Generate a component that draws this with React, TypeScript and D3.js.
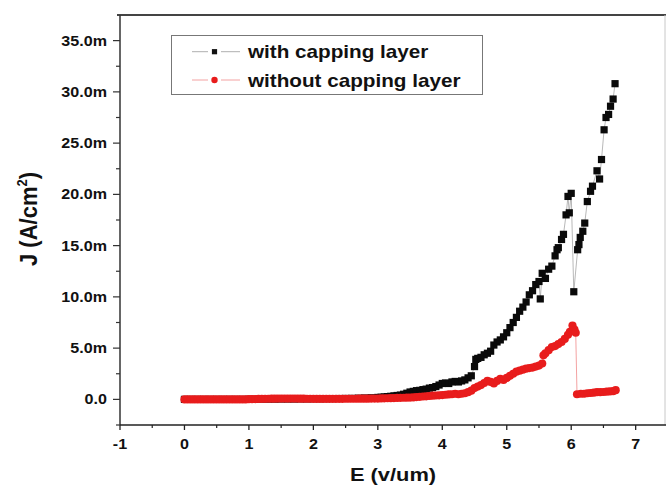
import React from 'react';
import * as d3 from 'd3';

// ---- data (J in mA/cm², E in V/um) ----
const eWith = [0, 0.1, 0.2, 0.3, 0.4, 0.5, 0.6, 0.7, 0.8, 0.9, 1.0, 1.1, 1.2, 1.3, 1.4, 1.5, 1.6, 1.7, 1.8, 1.9, 2.0, 2.1, 2.2, 2.3, 2.4, 2.5, 2.6, 2.7, 2.8, 2.9, 3.0,
  3.05, 3.1, 3.15, 3.2, 3.25, 3.3, 3.35, 3.4, 3.45, 3.5, 3.55, 3.6, 3.65, 3.7, 3.75, 3.8, 3.85, 3.9, 3.95, 4.0, 4.05, 4.1, 4.15, 4.2, 4.25, 4.3, 4.35, 4.4, 4.45, 4.5,
  4.52, 4.55, 4.6, 4.65, 4.7, 4.75, 4.8, 4.85, 4.9, 4.95, 5.0, 5.05, 5.1, 5.15, 5.2, 5.25, 5.3, 5.35, 5.4, 5.45, 5.5,
  5.52, 5.55, 5.6, 5.65, 5.7, 5.75, 5.78, 5.8, 5.85, 5.88, 5.92, 5.95, 5.97, 6.0,
  6.04, 6.1, 6.12, 6.14, 6.18, 6.21, 6.25, 6.3, 6.33, 6.4, 6.44, 6.47, 6.51, 6.54, 6.58, 6.61, 6.65, 6.68];
const jWith = [0, 0, 0, 0, 0, 0, 0, 0, 0, 0, 0.01, 0.01, 0.02, 0.02, 0.02, 0.03, 0.03, 0.03, 0.04, 0.04, 0.05, 0.05, 0.06, 0.07, 0.08, 0.09, 0.1, 0.12, 0.14, 0.16, 0.19,
  0.21, 0.24, 0.27, 0.3, 0.34, 0.38, 0.42, 0.5, 0.6, 0.72, 0.78, 0.85, 0.88, 0.95, 1.0, 1.1, 1.15, 1.25, 1.4, 1.55, 1.6, 1.55, 1.7, 1.75, 1.7, 1.8, 1.9, 2.1, 2.3, 3.2,
  3.9, 4.0, 4.1, 4.35, 4.5, 4.7, 5.3, 5.6, 5.8, 6.1, 6.5, 7.0, 7.5, 8.0, 8.6, 9.0, 9.5, 10.2, 10.6, 11.2, 11.5,
  9.8, 12.3, 11.8, 12.7, 13.0, 14.0, 14.6, 14.8, 15.6, 16.1, 18.0, 19.8, 18.2, 20.1,
  10.5, 14.6, 15.1, 15.8, 16.4, 17.2, 19.3, 20.3, 20.8, 22.3, 21.5, 23.4, 26.3, 27.5, 27.8, 28.6, 29.3, 30.8];

const eWithout = [0, 0.05, 0.1, 0.15, 0.2, 0.25, 0.3, 0.35, 0.4, 0.45, 0.5, 0.55, 0.6, 0.65, 0.7, 0.75, 0.8, 0.85, 0.9, 0.95,
  1.0, 1.05, 1.1, 1.15, 1.2, 1.25, 1.3, 1.35, 1.4, 1.45, 1.5, 1.55, 1.6, 1.65, 1.7, 1.75, 1.8, 1.85, 1.9, 1.95,
  2.0, 2.05, 2.1, 2.15, 2.2, 2.25, 2.3, 2.35, 2.4, 2.45, 2.5, 2.55, 2.6, 2.65, 2.7, 2.75, 2.8, 2.85, 2.9, 2.95, 3.0,
  3.05, 3.1, 3.15, 3.2, 3.25, 3.3, 3.35, 3.4, 3.45, 3.5, 3.55, 3.6, 3.65, 3.7, 3.75, 3.8, 3.85, 3.9, 3.95, 4.0,
  4.05, 4.1, 4.15, 4.2, 4.25, 4.3, 4.35, 4.4, 4.45, 4.5, 4.55, 4.6, 4.65, 4.7, 4.75, 4.8, 4.85, 4.9, 4.95, 5.0,
  5.05, 5.1, 5.15, 5.2, 5.25, 5.3, 5.35, 5.4, 5.45, 5.5, 5.55,
  5.57, 5.6, 5.65, 5.7, 5.75, 5.8, 5.85, 5.9, 5.95, 5.98, 6.02, 6.05, 6.07,
  6.09, 6.15, 6.2, 6.25, 6.3, 6.35, 6.4, 6.45, 6.5, 6.55, 6.6, 6.65, 6.69];
const jWithout = [0, 0, 0, 0, 0, 0, 0, 0, 0, 0, 0, 0, 0, 0, 0, 0, 0, 0, 0, 0,
  0.02, 0.02, 0.03, 0.04, 0.05, 0.05, 0.06, 0.07, 0.07, 0.08, 0.08, 0.08, 0.08, 0.08, 0.08, 0.08, 0.07, 0.07, 0.06, 0.06,
  0.05, 0.05, 0.05, 0.05, 0.05, 0.05, 0.05, 0.05, 0.05, 0.05, 0.06, 0.06, 0.06, 0.06, 0.07, 0.07, 0.07, 0.07, 0.08, 0.08, 0.08,
  0.09, 0.1, 0.11, 0.12, 0.13, 0.14, 0.15, 0.16, 0.17, 0.18, 0.19, 0.22, 0.25, 0.28, 0.3, 0.33, 0.36, 0.38, 0.4, 0.42,
  0.45, 0.48, 0.5, 0.55, 0.5, 0.55, 0.6, 0.7, 0.85, 1.1, 1.25, 1.4, 1.6, 1.8, 1.7, 1.55, 1.8, 2.0, 1.9, 2.1,
  2.3, 2.5, 2.7, 2.8, 2.9, 3.0, 3.05, 3.1, 3.2, 3.3, 3.5,
  4.3, 4.5, 4.8, 5.1, 5.2, 5.4, 5.6, 5.9, 6.3, 6.6, 7.2, 6.8, 6.5,
  0.5, 0.55, 0.55, 0.6, 0.62, 0.65, 0.7, 0.7, 0.72, 0.75, 0.78, 0.8, 0.9];

const xTicks = [-1, 0, 1, 2, 3, 4, 5, 6, 7];
const xMinorTicks = [-0.5, 0.5, 1.5, 2.5, 3.5, 4.5, 5.5, 6.5];
const yTicks = [0, 5, 10, 15, 20, 25, 30, 35];
const yMinorTicks = [-2.5, 2.5, 7.5, 12.5, 17.5, 22.5, 27.5, 32.5];
const seriesNames = ['with capping layer', 'without capping layer'];

const W = 666;
const H = 489;
const SX = 1.15; // horizontal stretch of text in the reference
const FONT = "'Liberation Sans', Arial, sans-serif";
const RED = '#e81c1c';

export default function App() {
  const x = d3.scaleLinear().domain([-1, 7.455]).range([120, 665]);
  const y = d3.scaleLinear().domain([-2.5, 37.5]).range([425, 15]);

  const withPts = eWith.map((e, i) => [e, jWith[i]] as [number, number]);
  const withoutPts = eWithout.map((e, i) => [e, jWithout[i]] as [number, number]);
  const line = d3.line<[number, number]>().x(d => x(d[0])).y(d => y(d[1]));

  const x0 = x.range()[0];
  const x1 = x.range()[1];
  const yb = y.range()[0];
  const yt = y.range()[1];
  const sq = 7.2;

  return (
    <svg width={W} height={H} style={{ position: 'absolute', left: 0, top: 0, background: '#fff' }} fontFamily={FONT}>
      <rect x={0} y={0} width={W} height={H} fill="#fff" />
      {/* frame */}
      <line x1={x0 - 3} x2={W} y1={yt} y2={yt} stroke="#444" strokeWidth={2.2} />
      <line x1={x1} x2={x1} y1={yt} y2={yb} stroke="#c8c8c8" strokeWidth={1} />
      <line x1={x0} x2={x0} y1={yt} y2={yb} stroke="#333" strokeWidth={1.5} />
      <line x1={x0} x2={W} y1={yb} y2={yb} stroke="#222" strokeWidth={1.6} />

      {/* y ticks */}
      {yTicks.map(t => (
        <g key={'y' + t}>
          <line x1={x0 - 7} x2={x0} y1={y(t)} y2={y(t)} stroke="#333" strokeWidth={1.2} />
          <text transform={`translate(${x0 - 13},${y(t) + 5}) scale(${SX},1)`} textAnchor="end" fontSize={14} fontWeight="bold" fill="#111">
            {t === 0 ? '0.0' : `${t.toFixed(1)}m`}
          </text>
        </g>
      ))}
      {yMinorTicks.map(t => (
        <line key={'ym' + t} x1={x0 - 4} x2={x0} y1={y(t)} y2={y(t)} stroke="#333" strokeWidth={1.2} />
      ))}

      {/* x ticks */}
      {xTicks.map(t => (
        <g key={'x' + t}>
          <line x1={x(t)} x2={x(t)} y1={yb} y2={yb + 5} stroke="#222" strokeWidth={1.3} />
          <text transform={`translate(${x(t)},${yb + 24}) scale(${SX},1)`} textAnchor="middle" fontSize={14} fontWeight="bold" fill="#111">
            {t}
          </text>
        </g>
      ))}
      {xMinorTicks.map(t => (
        <line key={'xm' + t} x1={x(t)} x2={x(t)} y1={yb} y2={yb + 3} stroke="#222" strokeWidth={1.2} />
      ))}

      {/* axis titles */}
      <text transform={`translate(393,481) scale(${SX},1)`} textAnchor="middle" fontSize={19} fontWeight="bold" fill="#111">
        E (v/um)
      </text>
      <text transform={`translate(37,219) rotate(-90) scale(1,1.1)`} textAnchor="middle" fontSize={22} fontWeight="bold" fill="#111">
        J (A/cm<tspan fontSize={13} dy={-9}>2</tspan><tspan dy={9}>)</tspan>
      </text>

      {/* series: with capping layer */}
      <path d={line(withPts) || ''} fill="none" stroke="#999" strokeWidth={0.7} />
      {withPts.map((p, i) => (
        <rect key={'b' + i} x={x(p[0]) - sq / 2} y={y(p[1]) - sq / 2} width={sq} height={sq} fill="#0a0a0a" />
      ))}

      {/* series: without capping layer */}
      <path d={line(withoutPts) || ''} fill="none" stroke="#f08a8a" strokeWidth={0.8} />
      {withoutPts.map((p, i) => (
        <circle key={'r' + i} cx={x(p[0])} cy={y(p[1])} r={4.1} fill={RED} />
      ))}

      {/* legend */}
      <rect x={171.5} y={35.5} width={311} height={59} fill="#fff" stroke="#777" strokeWidth={1} />
      {seriesNames.map((name, i) => {
        const ly = 51.7 + i * 28.3;
        const col = i === 0 ? '#999' : '#f08a8a';
        return (
          <g key={name}>
            <line x1={192} x2={208} y1={ly} y2={ly} stroke={col} strokeWidth={0.8} />
            <line x1={221} x2={240} y1={ly} y2={ly} stroke={col} strokeWidth={0.8} />
            {i === 0
              ? <rect x={214.5 - 2.6} y={ly - 2.6} width={5.2} height={5.2} fill="#111" />
              : <circle cx={214.5} cy={ly} r={3.2} fill={RED} />}
            <text transform={`translate(248,${ly + 6.5}) scale(${SX},1)`} fontSize={18} fontWeight="bold" fill="#111">
              {name}
            </text>
          </g>
        );
      })}
    </svg>
  );
}
